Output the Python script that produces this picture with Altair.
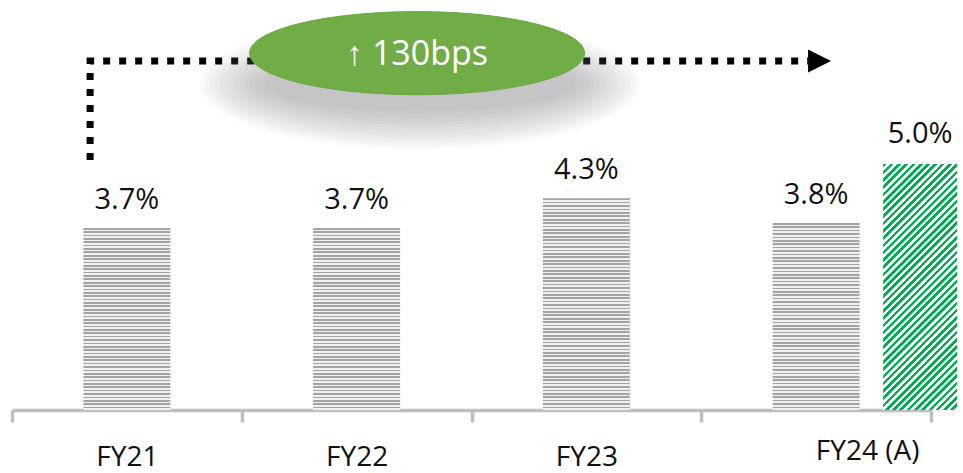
import altair as alt
import pandas as pd

# ---- data ----
categories = ["FY21", "FY22", "FY23", "FY24 (A)"]
margin_pct = [3.7, 3.7, 4.3, 3.8]
margin_text = ["3.7%", "3.7%", "4.3%", "3.8%"]
adj_category = "FY24 (A)"
adj_pct = 5.0
adj_text = "5.0%"
badge_text = "↑ 130bps"

# ---- layout / style ----
PLOT_W, PLOT_H = 919, 410
Y_MAX = 8.33
PX_PER_PCT = PLOT_H / Y_MAX
BAR_W = 87
ADJ_W = 74
ADJ_SHIFT = 104

FONT = "Open Sans"
TEXT_COLOR = "#111111"
GRAY_DARK = "#a3a3a3"
GRAY_LIGHT = "#f0f0f0"
GREEN = "#00b050"
BADGE_GREEN = "#70ad47"
AXIS_GRAY = "#bfbfbf"


def stripe_stops(n, c1, c2, t_max=1.0, frac=0.5):
    """Hard-edged alternating stops for a striped gradient fill."""
    stops = []
    step = t_max / n
    for i in range(n):
        s = round(i * step, 5)
        m = round(i * step + step * frac, 5)
        e = round(min((i + 1) * step, 1.0), 5)
        stops += [
            alt.GradientStop(offset=s, color=c1),
            alt.GradientStop(offset=m, color=c1),
            alt.GradientStop(offset=m, color=c2),
            alt.GradientStop(offset=e, color=c2),
        ]
    return stops


def ellipse_path(b):
    """Unit-width ellipse (x in [-1, 1], y in [-b, b]) as cubic Beziers."""
    k = 0.5523
    kb = round(k * b, 4)
    return (
        f"M -1 0 C -1 {-kb} {-k} {-b} 0 {-b} "
        f"C {k} {-b} 1 {-kb} 1 0 "
        f"C 1 {kb} {k} {b} 0 {b} "
        f"C {-k} {b} -1 {kb} -1 0 Z"
    )


x_axis = alt.Axis(
    title=None,
    labelAngle=0,
    domainColor=AXIS_GRAY,
    domainWidth=3.5,
    tickColor=AXIS_GRAY,
    tickWidth=3.5,
    tickSize=12,
    tickBand="extent",
    labelFont=FONT,
    labelFontSize=28,
    labelColor=TEXT_COLOR,
    labelBaseline="alphabetic",
    labelPadding={"condition": {"test": f"datum.value === '{adj_category}'", "value": 37}, "value": 43},
    labelOffset={"condition": {"test": f"datum.value === '{adj_category}'", "value": 51}, "value": 0},
)
x_band = alt.X(
    "category:N",
    sort=categories,
    scale=alt.Scale(domain=categories, paddingInner=0, paddingOuter=0),
    axis=x_axis,
)
y_pct = alt.Y("pct:Q", scale=alt.Scale(domain=[0, Y_MAX], nice=False, zero=True), axis=None)

# ---- striped gray bars, one layer each (the gradient is bar-relative) ----
bar_layers = []
for cat, v in zip(categories, margin_pct):
    h_px = v * PX_PER_PCT
    n = max(1, round(h_px / 3.4))
    grad = alt.LinearGradient(
        gradient="linear", stops=stripe_stops(n, GRAY_DARK, GRAY_LIGHT), x1=0, x2=0, y1=0, y2=1
    )
    bar_layers.append(
        alt.Chart(pd.DataFrame({"category": [cat], "pct": [v]}))
        .mark_bar(width=BAR_W, fill=grad, strokeWidth=0)
        .encode(x=x_band, y=y_pct)
    )

# ---- hatched green bar (45 degree stripes) ----
w_px = ADJ_W
h_px = adj_pct * PX_PER_PCT
t_max = (w_px + h_px) * w_px / (w_px ** 2 + h_px ** 2)
n_diag = max(1, round((w_px + h_px) / 7.3))
adj_grad = alt.LinearGradient(
    gradient="linear",
    stops=stripe_stops(n_diag, GREEN, "#ffffff", t_max=t_max),
    x1=0, y1=0, x2=1, y2=round(h_px / w_px, 4),
)
adj_df = pd.DataFrame({"category": [adj_category], "pct": [adj_pct], "label": [adj_text]})
adj_bar = (
    alt.Chart(adj_df)
    .mark_bar(width=ADJ_W, xOffset=ADJ_SHIFT, fill=adj_grad, strokeWidth=0)
    .encode(x=x_band, y=y_pct)
)

# ---- value labels ----
bars_df = pd.DataFrame({"category": categories, "pct": margin_pct, "label": margin_text})
labels = (
    alt.Chart(bars_df)
    .mark_text(font=FONT, fontSize=29, color=TEXT_COLOR, baseline="alphabetic", dy=-19)
    .encode(x=x_band, y=y_pct, text="label:N")
)
adj_label = (
    alt.Chart(adj_df)
    .mark_text(font=FONT, fontSize=29, color=TEXT_COLOR, baseline="alphabetic", dy=-21, dx=ADJ_SHIFT)
    .encode(x=x_band, y=y_pct, text="label:N")
)

main = alt.layer(*bar_layers, adj_bar, labels, adj_label)

# ---- bracket arrow and "bps" badge, on a category-index scale ----
ix_scale = alt.Scale(domain=[0, len(categories)], nice=False, zero=False)
x_ix = alt.X("ix:Q", scale=ix_scale, axis=None)

bracket_df = pd.DataFrame({"ix": [0.34, 0.34, 3.465], "pct": [5.08, 7.09, 7.09], "step": [0, 1, 2]})
bracket = (
    alt.Chart(bracket_df)
    .mark_line(color="#000000", strokeWidth=7, strokeDash=[7, 9], strokeCap="butt", strokeJoin="miter")
    .encode(x=x_ix, y=y_pct, order="step:Q")
)
arrowhead = (
    alt.Chart(pd.DataFrame({"ix": [3.515], "pct": [7.09]}))
    .mark_point(shape="M -1 -1 L 1 0 L -1 1 Z", size=23 ** 2, filled=True, color="#000000", opacity=1)
    .encode(x=x_ix, y=y_pct)
)

badge_ix, badge_pct = 1.763, 7.25

# soft drop shadow: stacked translucent ellipses, widest first
shadow_layers = []
for i in range(14):
    sw = 440 - 10 * i
    sh = 130 - 6 * i
    shadow_layers.append(
        alt.Chart(pd.DataFrame({"ix": [1.775], "pct": [6.62]}))
        .mark_point(shape=ellipse_path(round(sh / sw, 4)), size=sw ** 2, filled=True,
                    color="#808080", opacity=0.045, strokeWidth=0)
        .encode(x=x_ix, y=y_pct)
    )

badge = (
    alt.Chart(pd.DataFrame({"ix": [badge_ix], "pct": [badge_pct]}))
    .mark_point(shape=ellipse_path(0.248), size=335 ** 2, filled=True, color=BADGE_GREEN,
                opacity=1, stroke="#6aa843", strokeWidth=1)
    .encode(x=x_ix, y=y_pct)
)
badge_label = (
    alt.Chart(pd.DataFrame({"ix": [badge_ix], "pct": [7.21], "label": [badge_text]}))
    .mark_text(font=FONT, fontSize=34, color="#ffffff", baseline="middle", align="center")
    .encode(x=x_ix, y=y_pct, text="label:N")
)

annotations = alt.layer(bracket, arrowhead, *shadow_layers, badge, badge_label)

chart = (
    alt.layer(main, annotations)
    .resolve_scale(x="independent")
    .properties(
        width=PLOT_W,
        height=PLOT_H,
        autosize=alt.AutoSizeParams(type="none"),
        padding={"left": 12, "right": 32, "top": 0, "bottom": 63},
        background="#ffffff",
    )
    .configure_view(stroke=None)
)

chart.save("out.html", embed_options={"renderer": "svg", "actions": False})
